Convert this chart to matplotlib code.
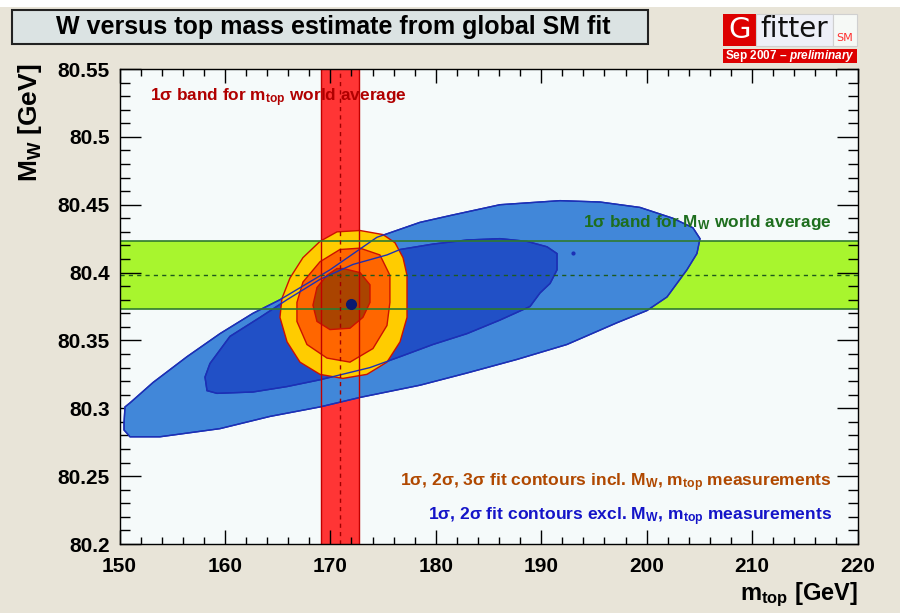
import matplotlib
matplotlib.use("Agg")
import matplotlib.pyplot as plt
from matplotlib.patches import Rectangle, Polygon
import numpy as np

plt.rcParams['font.family'] = ['Liberation Sans', 'DejaVu Sans']
plt.rcParams['font.weight'] = 'bold'
plt.rcParams['mathtext.fontset'] = 'custom'
plt.rcParams['mathtext.rm'] = 'Liberation Sans:bold'
plt.rcParams['mathtext.bf'] = 'Liberation Sans:bold'
plt.rcParams['mathtext.it'] = 'Liberation Sans:bold:italic'
plt.rcParams['mathtext.default'] = 'rm'

# world averages (central value, 1 sigma)
mtop_avg, mtop_err = 170.9, 1.8
mw_avg, mw_err = 80.398, 0.025

# best fit point
best_mtop, best_mw = [171.98], [80.377]

# small island of the outer excl. contour
island_mtop, island_mw = [193.0], [80.4146]

# 2 sigma contour, excl. M_W and m_top measurements
excl2_mtop = [150.43, 150.52, 151.00, 153.18, 156.40, 159.53, 162.66, 165.22, 169.96,
              174.42, 178.50, 181.35, 186.09, 191.78, 195.57, 199.37, 202.50, 204.39,
              205.06, 204.77, 203.82, 201.93, 200.03, 197.18, 192.44, 187.70, 182.96,
              178.50, 172.81, 169.02, 164.27, 159.53, 153.84, 151.00, 150.43]
excl2_mw = [80.289, 80.301, 80.304, 80.319, 80.338, 80.355, 80.370, 80.380, 80.402,
            80.426, 80.437, 80.442, 80.450, 80.453, 80.452, 80.448, 80.440, 80.433,
            80.425, 80.414, 80.402, 80.382, 80.372, 80.363, 80.347, 80.336, 80.326,
            80.317, 80.308, 80.301, 80.294, 80.285, 80.279, 80.279, 80.284]

# 1 sigma contour, excl.
excl1_mtop = [158.11, 158.58, 160.48, 163.33, 165.89, 169.02, 172.15, 175.37, 176.61,
              179.73, 182.96, 186.09, 188.65, 190.55, 191.50, 191.50, 190.84, 189.89,
              188.94, 186.09, 182.96, 179.73, 176.61, 173.76, 169.02, 165.89, 162.66,
              159.25, 158.30]
excl1_mw = [80.323, 80.333, 80.353, 80.367, 80.380, 80.395, 80.406, 80.413, 80.417,
            80.421, 80.424, 80.425, 80.423, 80.419, 80.414, 80.402, 80.392, 80.385,
            80.375, 80.365, 80.355, 80.347, 80.338, 80.330, 80.321, 80.316, 80.312,
            80.311, 80.313]

# 3 sigma contour, incl. measurements
incl3_mtop = [170.63, 172.81, 174.99, 176.13, 176.89, 177.27, 177.27, 176.61, 175.37,
              173.47, 171.19, 169.02, 167.12, 165.89, 165.22, 165.41, 166.17, 167.40,
              169.02]
incl3_mw = [80.430, 80.431, 80.428, 80.422, 80.411, 80.398, 80.367, 80.349, 80.334,
            80.325, 80.322, 80.325, 80.334, 80.349, 80.367, 80.381, 80.396, 80.411,
            80.423]

# 2 sigma contour, incl.
incl2_mtop = [170.91, 172.81, 174.70, 175.65, 175.65, 175.37, 174.04, 171.86, 169.68,
              167.78, 166.83, 166.83, 167.40, 169.02]
incl2_mw = [80.417, 80.418, 80.413, 80.398, 80.378, 80.361, 80.344, 80.334, 80.337,
            80.347, 80.364, 80.378, 80.393, 80.408]

# 1 sigma contour, incl.
incl1_mtop = [171.20, 172.81, 173.76, 173.76, 173.09, 171.86, 169.96, 168.73, 168.35,
              168.73, 169.68, 170.63]
incl1_mw = [80.403, 80.400, 80.391, 80.378, 80.367, 80.359, 80.358, 80.364, 80.376,
            80.389, 80.398, 80.403]

x_ticks = [150, 160, 170, 180, 190, 200, 210, 220]
x_labels = ['150', '160', '170', '180', '190', '200', '210', '220']
y_ticks = [80.2, 80.25, 80.3, 80.35, 80.4, 80.45, 80.5, 80.55]
y_labels = ['80.2', '80.25', '80.3', '80.35', '80.4', '80.45', '80.5', '80.55']

W, H = 900, 613
fig = plt.figure(figsize=(9, 6.13), dpi=100, facecolor='#e8e4d8')


def fx(p):
    return p / W


def fy(p):
    return 1 - p / H


# thin white strip at the very top
fig.patches.append(Rectangle((0, fy(7)), 1, 7 / H, transform=fig.transFigure,
                             facecolor='white', edgecolor='none', zorder=0))

ax = fig.add_axes([fx(119.5), fy(544), 738 / W, 475 / H])
ax.set_facecolor('#f5fafa')
ax.set_xlim(150, 220)
ax.set_ylim(80.2, 80.55)

# bands
ax.axvspan(mtop_avg - mtop_err, mtop_avg + mtop_err, color='#ff3535', lw=0, zorder=1)
ax.axhspan(mw_avg - mw_err, mw_avg + mw_err, color='#a8f52e', lw=0, zorder=1)

# excl. contours
ax.add_patch(Polygon(np.column_stack([excl2_mtop, excl2_mw]), closed=True,
                     facecolor='#4187d9', edgecolor='#1c30b5', lw=1, zorder=2))
ax.add_patch(Polygon(np.column_stack([excl1_mtop, excl1_mw]), closed=True,
                     facecolor='#2150c6', edgecolor='#1c30b5', lw=1, zorder=3))
ax.plot(island_mtop, island_mw, 'o', ms=2, color='#1c30b5', zorder=3)

# incl. contours
for xs, ys, col in [(incl3_mtop, incl3_mw, '#ffcc00'),
                    (incl2_mtop, incl2_mw, '#ff6600'),
                    (incl1_mtop, incl1_mw, '#aa4400')]:
    ax.add_patch(Polygon(np.column_stack([xs, ys]), closed=True,
                         facecolor=col, edgecolor='#cc1100', lw=1, zorder=4))

# blue contour lines drawn over the incl. contours
for xs, ys in [(excl2_mtop, excl2_mw), (excl1_mtop, excl1_mw)]:
    ax.add_patch(Polygon(np.column_stack([xs, ys]), closed=True, fill=False,
                         edgecolor='#1c30b5', lw=1, zorder=5))

# band edges and central values
for v in (mtop_avg - mtop_err, mtop_avg + mtop_err):
    ax.axvline(v, color='#c00000', lw=1, zorder=6)
for v in (mw_avg - mw_err, mw_avg + mw_err):
    ax.axhline(v, color='#2f7a2f', lw=1.2, zorder=6)
ax.axvline(mtop_avg, color='#a00000', lw=1, ls=(0, (3, 3)), zorder=6)
ax.axhline(mw_avg, color='#1e5a1e', lw=1, ls=(0, (3, 3)), zorder=6)

ax.plot(best_mtop, best_mw, 'o', ms=7, color='#0a1a70', zorder=7)

# ticks, ROOT style
ax.set_xticks(x_ticks)
ax.set_xticklabels(x_labels)
ax.set_yticks(y_ticks)
ax.set_yticklabels(y_labels)
ax.set_xticks(np.arange(150, 221, 2), minor=True)
ax.set_yticks(np.arange(80.2, 80.551, 0.01), minor=True)
ax.tick_params(which='both', direction='in', top=True, right=True, width=1, labelsize=15)
ax.tick_params(axis='x', which='major', length=10, pad=9)
ax.tick_params(axis='x', which='minor', length=5)
ax.tick_params(axis='y', which='major', length=15, pad=7)
ax.tick_params(axis='y', which='minor', length=7.5)
for lab in ax.get_xticklabels() + ax.get_yticklabels():
    lab.set_fontweight('bold')
for s in ax.spines.values():
    s.set_linewidth(1)
    s.set_zorder(8)

# annotations
ax.text(152.9, 80.529, r'1σ band for m$_{top}$ world average', color='#b00000',
        fontsize=12.4, va='center', ha='left', zorder=9)
ax.text(194.0, 80.437, r'1σ band for M$_{W}$ world average', color='#1e6e1e',
        fontsize=12.4, va='center', ha='left', zorder=9)
ax.text(217.6, 80.245, r'1σ, 2σ, 3σ fit contours incl. M$_{W}$, m$_{top}$ measurements',
        color='#b04800', fontsize=12.6, va='center', ha='right', zorder=9)
ax.text(217.6, 80.220, r'1σ, 2σ fit contours excl. M$_{W}$, m$_{top}$ measurements',
        color='#1414c8', fontsize=12.6, va='center', ha='right', zorder=9)

# axis titles
fig.text(fx(30), fy(64), r'M$_{W}$ [GeV]', rotation=90, ha='center', va='top',
         fontsize=19, fontweight='bold')
fig.text(fx(858), fy(600), r'm$_{top}$ [GeV]', ha='right', va='baseline',
         fontsize=17, fontweight='bold')

# title box
fig.patches.append(Rectangle((fx(12), fy(44)), 636 / W, 34 / H, transform=fig.transFigure,
                             facecolor='#dbe3e3', edgecolor='#222222', lw=1.5))
fig.text(fx(333), fy(27), 'W versus top mass estimate from global SM fit',
         ha='center', va='center', fontsize=18, fontweight='bold')

# Gfitter logo
fig.patches.append(Rectangle((fx(723), fy(46)), 33 / W, 32 / H, transform=fig.transFigure,
                             facecolor='#dd0000', edgecolor='none'))
fig.patches.append(Rectangle((fx(756), fy(46)), 77 / W, 32 / H, transform=fig.transFigure,
                             facecolor='#eef0f8', edgecolor='#d0d0d0', lw=0.8))
fig.patches.append(Rectangle((fx(833), fy(46)), 24 / W, 32 / H, transform=fig.transFigure,
                             facecolor='#f6f9f6', edgecolor='#d0d0d0', lw=0.8))
fig.patches.append(Rectangle((fx(723), fy(63)), 134 / W, 14 / H, transform=fig.transFigure,
                             facecolor='#dd0000', edgecolor='none'))
fig.text(fx(739.5), fy(30), 'G', color='white', fontsize=21, fontweight='normal',
         family='DejaVu Sans', ha='center', va='center')
fig.text(fx(794), fy(29), 'fitter', color='#111111', fontsize=20, fontweight='normal',
         family='DejaVu Sans', ha='center', va='center')
fig.text(fx(845), fy(38), 'SM', color='#ff3030', fontsize=8, fontweight='normal',
         family='DejaVu Sans', ha='center', va='center')
fig.text(fx(790), fy(56), 'Sep 2007 \u2013 $\\mathit{preliminary}$', color='white',
         fontsize=8.5, fontweight='bold', ha='center', va='center')

fig.savefig('out.png', dpi=100, facecolor=fig.get_facecolor())
